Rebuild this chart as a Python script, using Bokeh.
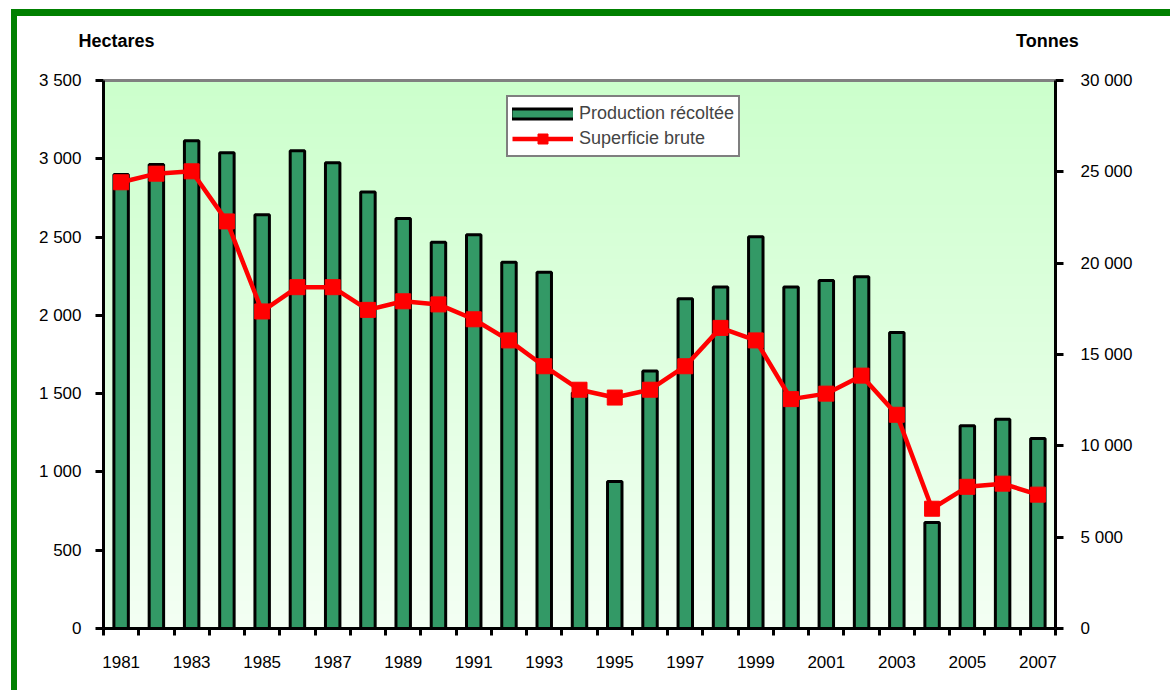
import numpy as np
from bokeh.plotting import figure
from bokeh.models import (Range1d, LinearAxis, FixedTicker, CustomJSTickFormatter,
                          Legend, LegendItem)
from bokeh.embed import file_html
from bokeh.resources import INLINE

# ---------------- data ----------------
years = list(range(1981, 2008))
year_labels = [str(y) for y in years]
production_t = [24850, 25400, 26700, 26050, 22650, 26150, 25500, 23900, 22450, 21150,
                21550, 20050, 19500, 12900, 8050, 14100, 18050, 18700, 21450, 18700,
                19050, 19250, 16200, 5800, 11100, 11450, 10400]
superficie_ha = [2850, 2905, 2920, 2600, 2025, 2180, 2180, 2035, 2090, 2070,
                 1975, 1840, 1675, 1525, 1475, 1525, 1675, 1920, 1840, 1465,
                 1500, 1615, 1365, 765, 905, 925, 855]
left_ticks = [0, 500, 1000, 1500, 2000, 2500, 3000, 3500]
right_ticks = [0, 5000, 10000, 15000, 20000, 25000, 30000]
label_years = years[::2]
left_title = "Hectares"
right_title = "Tonnes"

FONT = "Liberation Sans"
BAR = "#339966"

W, H = 1170, 690
BL, BR, BT, BB = 103, 115, 80, 62
x0, x1 = years[0] - 0.5, years[-1] + 0.5
px_per_x = (W - BL - BR) / (x1 - x0)

p = figure(width=W, height=H, x_range=Range1d(x0, x1), y_range=Range1d(0, 3500),
           output_backend="svg", toolbar_location=None,
           min_border_left=BL, min_border_right=BR, min_border_top=BT, min_border_bottom=BB,
           border_fill_color=None, background_fill_color="white",
           outline_line_color=None)
p.styles = {
    "background-color": "white",
    "background-image": "linear-gradient(#008000, #008000), linear-gradient(#008000, #008000)",
    "background-size": "6px 100%, 100% 7px",
    "background-position": "11px 9px, 11px 9px",
    "background-repeat": "no-repeat",
}
p.extra_y_ranges = {"t": Range1d(0, 30000)}
p.xgrid.visible = False
p.ygrid.visible = False

# gradient background of the plot area
n = 256
img = np.zeros((n, 1), dtype=np.uint32)
v = img.view(dtype=np.uint8).reshape((n, 1, 4))
top = np.array([204, 255, 204])
bot = np.array([244, 255, 244])
for i in range(n):
    t = i / (n - 1)
    c = bot + (top - bot) * t
    v[i, 0, 0] = int(c[0]); v[i, 0, 1] = int(c[1]); v[i, 0, 2] = int(c[2]); v[i, 0, 3] = 255
p.image_rgba(image=[img], x=x0, y=0, dw=x1 - x0, dh=3500)

# bars (tonnes, right axis)
p.vbar(x=years, top=production_t, width=0.41, bottom=0, y_range_name="t",
       fill_color=BAR, line_color="black", line_width=3)

# line (hectares, left axis)
r_line = p.line(years, superficie_ha, line_color="#FF0000", line_width=4.5)
r_pts = p.scatter(years, superficie_ha, marker="square", size=15,
                  fill_color="#FF0000", line_color="#FF0000")

# legend proxies for the bar item (drawn outside the visible range)
lg_black = p.line([x0 - 20, x0 - 19], [0, 0], line_color="black", line_width=13, line_cap="round")
lg_green = p.line([x0 - 20, x0 - 19], [0, 0], line_color=BAR, line_width=7)

fmt = CustomJSTickFormatter(code=r"""
return tick.toFixed(0).replace(/\B(?=(\d{3})+(?!\d))/g, ' ');
""")

def style_axis(ax):
    ax.axis_line_color = "black"
    ax.axis_line_width = 3
    ax.major_tick_line_color = "black"
    ax.major_tick_line_width = 3
    ax.major_tick_in = 0
    ax.major_tick_out = 8
    ax.minor_tick_line_color = None
    ax.major_label_text_font = FONT
    ax.major_label_text_font_size = "17px"
    ax.major_label_text_color = "black"

# left axis
ly = p.yaxis[0]
ly.ticker = FixedTicker(ticks=left_ticks)
ly.formatter = fmt
style_axis(ly)
ly.major_label_standoff = 14

# right axis
ry = LinearAxis(y_range_name="t", ticker=FixedTicker(ticks=right_ticks), formatter=fmt)
style_axis(ry)
ry.major_label_standoff = 17
p.add_layout(ry, "right")

# x axis
xa = p.xaxis[0]
xa.ticker = FixedTicker(ticks=label_years,
                        minor_ticks=[y - 0.5 for y in years] + [years[-1] + 0.5])
style_axis(xa)
xa.major_tick_out = 0
xa.minor_tick_line_color = "black"
xa.minor_tick_line_width = 3
xa.minor_tick_in = 0
xa.minor_tick_out = 7
xa.major_label_standoff = 20
xa.major_label_overrides = {y: s for y, s in zip(years, year_labels)}

# top grey border, carrying the two unit titles as its labels
pos_left = round(x0 + 13 / px_per_x, 2)      # centre of "Hectares"
pos_right = round(x1 - 8 / px_per_x, 2)      # centre of "Tonnes"
ta = LinearAxis(ticker=FixedTicker(ticks=[pos_left, pos_right]))
ta.axis_line_color = "#808080"
ta.axis_line_width = 3
ta.major_tick_line_color = None
ta.minor_tick_line_color = None
ta.major_tick_out = 0
ta.major_tick_in = 0
ta.major_label_standoff = 30
ta.major_label_text_font = FONT
ta.major_label_text_font_size = "18px"
ta.major_label_text_font_style = "bold"
ta.major_label_text_color = "black"
ta.major_label_overrides = {pos_left: left_title, pos_right: right_title}
p.add_layout(ta, "above")

# legend
legend = Legend(items=[LegendItem(label="Production récoltée", renderers=[lg_black, lg_green]),
                       LegendItem(label="Superficie brute", renderers=[r_line, r_pts])],
                location=(403, 471), orientation="vertical",
                label_text_font=FONT, label_text_font_size="18px",
                glyph_width=61, glyph_height=25, label_height=25, label_standoff=6,
                spacing=0, padding=4, margin=0,
                border_line_color="black", border_line_width=2,
                background_fill_color="white", background_fill_alpha=1)
p.add_layout(legend, "center")

open("out.html", "w").write(file_html(p, INLINE))
